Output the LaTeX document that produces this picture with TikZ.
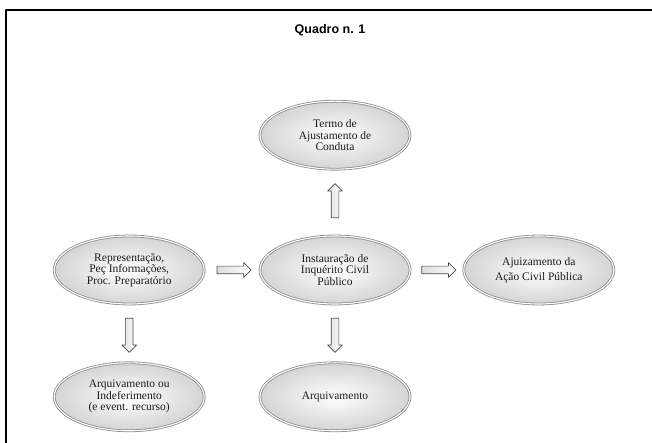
\documentclass[tikz,border=0pt]{standalone}
\usepackage{fontspec}
\setmainfont{Liberation Serif}
\newfontfamily\titlefont{Liberation Sans}
\usepackage{xcolor}
\usetikzlibrary{positioning,calc,shapes.geometric,shapes.arrows}
\definecolor{ringgray}{HTML}{8C8C8C}
\definecolor{softgray}{HTML}{D4D4D4}
\definecolor{arrowink}{HTML}{4A4A4A}
\definecolor{ink}{HTML}{1A1A1A}
\tikzset{
    every picture/.style={line join=round},
    stagenode/.style={ellipse,draw=ringgray,double=white,double distance=1.1pt,
      line width=0.8pt,inner color=white,outer color=softgray,
      minimum width=150pt,minimum height=68pt,inner sep=1pt,
      font=\fontsize{11.5}{11.5}\selectfont,text=ink,align=center},
    blockarrow/.style={single arrow,draw=arrowink,line width=0.7pt,
      left color=softgray!80,right color=white,
      minimum height=34pt,minimum width=14pt,inner xsep=0pt,inner ysep=3.5pt,
      single arrow head extend=3.5pt,single arrow head indent=0pt},
    frameline/.style={draw=black,line width=1.6pt}
}
\begin{document}
\begin{tikzpicture}[x=1pt,y=1pt]
    \useasboundingbox (0,0) rectangle (652,443);
    \draw[frameline] (6,-10) -- (6,433) -- (662,433);
    \node[font=\titlefont\bfseries\fontsize{12.5}{14}\selectfont] (title) at (330,413) {Quadro n. 1};

    \node[stagenode] (inst) at (335,173) {Instauração de\\Inquérito Civil\\Público};
    \node[stagenode,left=55pt of inst] (rep) {Representação,\\Peç Informações,\\Proc. Preparatório};
    \node[stagenode,right=53pt of inst] (ajuiz) {Ajuizamento da\\[4pt]Ação Civil Pública};
    \node[stagenode,above=66pt of inst] (tac) {Termo de\\Ajustamento de\\Conduta};
    \node[stagenode,below=58pt of inst] (arqinst) {Arquivamento};
    \node[stagenode,below=58pt of rep] (arqrep) {Arquivamento ou\\Indeferimento\\(e event. recurso)};

    \node[blockarrow] (a1) at ($(rep.east)!0.5!(inst.west)$) {};
    \node[blockarrow] (a2) at ($(inst.east)!0.5!(ajuiz.west)$) {};
    \node[blockarrow,rotate=90] (a3) at ($(inst.north)!0.5!(tac.south)$) {};
    \node[blockarrow,rotate=-90] (a4) at ($(inst.south)!0.5!(arqinst.north)$) {};
    \node[blockarrow,rotate=-90] (a5) at ($(rep.south)!0.5!(arqrep.north)$) {};
\end{tikzpicture}
\end{document}
